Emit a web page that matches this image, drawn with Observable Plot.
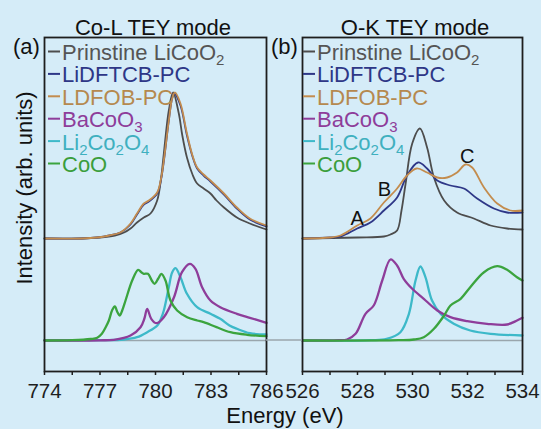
<!DOCTYPE html>
<html><head><meta charset="utf-8">
<script src="https://cdn.jsdelivr.net/npm/d3@7"></script>
<script src="https://cdn.jsdelivr.net/npm/@observablehq/plot@0.6"></script>
<style>
body{margin:0;background:#d5ecf8;}
#wrap{position:relative;width:541px;height:429px;background:#d5ecf8;font-family:"Liberation Sans",Arial,sans-serif;overflow:hidden}
#wrap svg{position:absolute;top:0}
</style></head><body><div id="wrap"></div>
<script>
// ---------- data ----------
const seriesNames = ["Prinstine LiCoO_2", "LiDFTCB-PC", "LDFOB-PC", "BaCoO_3", "Li_2Co_2O_4", "CoO"];
const seriesColors = ["#4d4d4d", "#2e3787", "#c38c4e", "#8e3d9a", "#3db9c9", "#3ba43e"];
const legendTextColors = ["#555555", "#2e3787", "#b5894f", "#8e3d9a", "#3fb0bf", "#3a9e3c"];

const panelTitles = ["Co-L TEY mode", "O-K TEY mode"];
const panelTags = ["(a)", "(b)"];
const yLabel = "Intensity (arb. units)";
const xLabel = "Energy (eV)";

const coLDomain = [774, 786];
const coLTicks = [774, 775.5, 777, 778.5, 780, 781.5, 783, 784.5, 786];
const coLTickLabels = [774, 777, 780, 783, 786];
const okDomain = [526, 534];
const okTicks = [526, 527, 528, 529, 530, 531, 532, 533, 534];
const okTickLabels = [526, 528, 530, 532, 534];
const yDomain = [-0.31, 3.03];

// Co-L edge
const coL_Prinstine = [[774,1.02],[776,1.02],[777,1.03],[777.8,1.05],[778.3,1.08],[778.65,1.12],[779.0,1.18],[779.37,1.23],[779.73,1.27],[780.09,1.40],[780.3,1.62],[780.45,1.87],[780.72,2.30],[780.95,2.48],[781.26,2.27],[781.45,2.05],[781.7,1.83],[782.0,1.66],[782.25,1.57],[782.6,1.52],[782.97,1.47],[783.3,1.40],[783.7,1.33],[784.4,1.23],[785.1,1.17],[786,1.11]];
const coL_LiDFTCB = [[774,1.02],[776,1.02],[776.85,1.03],[777.5,1.05],[778.1,1.08],[778.65,1.16],[779.0,1.26],[779.37,1.36],[779.64,1.39],[780.09,1.47],[780.3,1.61],[780.45,1.79],[780.72,2.20],[780.9,2.42],[781.02,2.47],[781.35,2.35],[781.7,2.05],[782.0,1.84],[782.25,1.72],[782.6,1.65],[782.97,1.59],[783.7,1.46],[784.4,1.32],[785.1,1.21],[786,1.14]];
const coL_LDFOB = [[774,1.02],[776,1.02],[776.85,1.03],[777.5,1.05],[778.1,1.08],[778.65,1.17],[779.0,1.27],[779.37,1.37],[779.64,1.40],[780.09,1.48],[780.3,1.62],[780.45,1.80],[780.72,2.20],[780.9,2.42],[781.05,2.48],[781.35,2.37],[781.7,2.07],[782.0,1.85],[782.25,1.73],[782.6,1.66],[782.97,1.60],[783.7,1.47],[784.4,1.33],[785.1,1.22],[786,1.15]];
const coL_BaCoO3 = [[774,0],[777,0.002],[777.75,0.007],[778.65,0.05],[779.19,0.133],[779.4,0.22],[779.55,0.317],[779.77,0.217],[780.05,0.173],[780.45,0.233],[781.0,0.433],[781.43,0.683],[781.86,0.767],[782.16,0.717],[782.52,0.533],[782.97,0.40],[783.5,0.333],[784.4,0.267],[785.1,0.227],[786,0.177]];
const coL_Li2Co2O4 = [[774,0],[777,0.003],[778.3,0.01],[779.0,0.033],[779.55,0.083],[780.1,0.15],[780.3,0.22],[780.45,0.30],[780.72,0.533],[780.9,0.68],[781.08,0.723],[781.35,0.633],[781.7,0.467],[782.25,0.333],[782.97,0.267],[783.5,0.217],[784.0,0.15],[784.4,0.117],[785.1,0.073],[786,0.06]];
const coL_CoO = [[774,0],[775.5,0.003],[776.5,0.015],[776.85,0.027],[777.1,0.067],[777.3,0.13],[777.48,0.20],[777.65,0.30],[777.8,0.34],[777.95,0.28],[778.07,0.25],[778.2,0.30],[778.38,0.40],[778.74,0.60],[779.06,0.707],[779.25,0.68],[779.37,0.667],[779.59,0.667],[779.8,0.60],[779.95,0.567],[780.15,0.62],[780.32,0.667],[780.54,0.60],[780.81,0.40],[781.17,0.30],[781.71,0.233],[782.25,0.20],[782.6,0.183],[783.3,0.133],[784.05,0.083],[784.95,0.057],[786,0.043]];

// O-K edge
const ok_Prinstine = [[526,1.02],[528,1.03],[528.96,1.04],[529.2,1.06],[529.44,1.10],[529.6,1.30],[529.75,1.57],[529.99,1.97],[530.27,2.12],[530.53,1.93],[530.78,1.63],[531.15,1.40],[531.62,1.28],[532.23,1.22],[532.84,1.15],[533.44,1.12],[534,1.11]];
const ok_LiDFTCB = [[526,1.02],[527,1.03],[527.38,1.04],[527.99,1.12],[528.47,1.18],[528.96,1.30],[529.44,1.43],[529.8,1.65],[530.2,1.78],[530.53,1.72],[530.9,1.60],[531.38,1.55],[531.87,1.52],[532.35,1.42],[532.96,1.32],[533.44,1.28],[534,1.28]];
const ok_LDFOB = [[526,1.02],[527,1.03],[527.38,1.05],[527.99,1.15],[528.47,1.22],[528.96,1.38],[529.44,1.52],[529.8,1.65],[530.15,1.72],[530.53,1.68],[530.9,1.63],[531.26,1.63],[531.62,1.68],[531.93,1.76],[532.17,1.73],[532.6,1.53],[533.08,1.37],[533.56,1.30],[534,1.30]];
const ok_BaCoO3 = [[526,0],[527.3,0.003],[527.62,0.01],[527.93,0.067],[528.29,0.267],[528.59,0.35],[528.9,0.60],[529.2,0.81],[529.44,0.75],[529.68,0.617],[529.99,0.517],[530.41,0.417],[530.9,0.30],[531.38,0.233],[531.99,0.193],[532.71,0.167],[533.44,0.16],[533.8,0.20],[534,0.227]];
const ok_Li2Co2O4 = [[526,0],[528.5,0.003],[529.06,0.017],[529.56,0.083],[529.87,0.267],[530.11,0.60],[530.29,0.74],[530.47,0.633],[530.71,0.40],[531.02,0.267],[531.5,0.167],[532.1,0.10],[532.84,0.067],[534,0.05]];
const ok_CoO = [[526,0],[529.5,0.003],[530.05,0.01],[530.41,0.033],[530.78,0.117],[531.15,0.25],[531.38,0.35],[531.75,0.417],[532.1,0.533],[532.6,0.683],[533.08,0.743],[533.44,0.707],[533.8,0.633],[534,0.60]];

const okAnnotations = [{label:"A", x:527.99, y:1.22},{label:"B", x:528.98, y:1.51},{label:"C", x:531.99, y:1.84}];

// ---------- drawing ----------
const FONT = '"Liberation Sans", Arial, sans-serif';
const wrap = document.getElementById("wrap");

function linesFor(seriesList) {
  // bottom references first, then top spectra (gray, navy, orange)
  const order = [4, 3, 5, 0, 1, 2];
  return order.map(i => Plot.line(seriesList[i], {
    x: d => d[0], y: d => d[1], stroke: seriesColors[i],
    strokeWidth: i >= 3 ? 2.3 : 1.8, curve: "catmull-rom"
  }));
}

function panel(opts) {
  return Plot.plot({
    width: opts.width, height: 429,
    marginLeft: opts.ml, marginRight: opts.mr, marginTop: 37, marginBottom: 58,
    style: {background: "transparent", fontFamily: FONT, color: "#1e1e1e", overflow: "visible"},
    x: {domain: opts.domain},
    y: {domain: yDomain, axis: null},
    marks: [
      Plot.ruleY([0], {stroke: "#9aa6ad", strokeWidth: 1.5}),
      ...linesFor(opts.series),
      ...(opts.annotations ? [Plot.text(opts.annotations, {x: "x", y: "y", text: "label", fontSize: 20, fill: "#111"})] : []),
      Plot.frame({stroke: "#1e1e1e", strokeWidth: 1.8}),
      Plot.axisX(opts.ticks, {
        tickFormat: d => opts.labels.includes(d) ? String(d) : "",
        tickSize: 4, tickPadding: 8, fontSize: 20.5, label: null, strokeWidth: 1.5
      })
    ]
  });
}

const left = panel({width: 290, ml: 44, mr: 24, domain: coLDomain, ticks: coLTicks, labels: coLTickLabels,
  series: [coL_Prinstine, coL_LiDFTCB, coL_LDFOB, coL_BaCoO3, coL_Li2Co2O4, coL_CoO]});
const right = panel({width: 261, ml: 22, mr: 19, domain: okDomain, ticks: okTicks, labels: okTickLabels,
  series: [ok_Prinstine, ok_LiDFTCB, ok_LDFOB, ok_BaCoO3, ok_Li2Co2O4, ok_CoO], annotations: okAnnotations});
left.style.left = "0px";
right.style.left = "280px";
wrap.appendChild(left);
wrap.appendChild(right);

// overlay texts
const ov = d3.select(wrap).append("svg").attr("width", 541).attr("height", 429)
  .style("left", "0px").style("font-family", FONT).style("pointer-events", "none");

// gray baseline bridging the two panels
const lx = left.scale("x"), ly = left.scale("y"), rx = right.scale("x");
ov.append("line").attr("x1", lx.apply(coLDomain[1])).attr("x2", 280 + rx.apply(okDomain[0]))
  .attr("y1", ly.apply(0)).attr("y2", ly.apply(0)).attr("stroke", "#9aa6ad").attr("stroke-width", 1.5);

ov.append("text").attr("x", 153).attr("y", 35).attr("text-anchor", "middle").attr("font-size", 22).attr("fill", "#111").text(panelTitles[0]);
ov.append("text").attr("x", 415).attr("y", 35).attr("text-anchor", "middle").attr("font-size", 22).attr("fill", "#111").text(panelTitles[1]);
ov.append("text").attr("x", 13).attr("y", 54).attr("font-size", 22).attr("fill", "#111").text(panelTags[0]);
ov.append("text").attr("x", 271).attr("y", 54).attr("font-size", 22).attr("fill", "#111").text(panelTags[1]);
ov.append("text").attr("transform", "translate(32,188) rotate(-90)").attr("text-anchor", "middle").attr("font-size", 22).attr("fill", "#111").text(yLabel);
ov.append("text").attr("x", 285).attr("y", 423).attr("text-anchor", "middle").attr("font-size", 22).attr("fill", "#111").text(xLabel);

function legend(x0) {
  seriesNames.forEach((name, i) => {
    const base = 60 + i * 22.4;
    ov.append("line").attr("x1", x0).attr("x2", x0 + 12).attr("y1", base - 8.5).attr("y2", base - 8.5)
      .attr("stroke", seriesColors[i]).attr("stroke-width", 2);
    const t = ov.append("text").attr("x", x0 + 14).attr("y", base).attr("font-size", 22).attr("fill", legendTextColors[i]);
    const parts = name.split(/(_\d)/).filter(s => s.length);
    let lowered = false;
    parts.forEach(p => {
      if (p.startsWith("_")) {
        t.append("tspan").attr("font-size", 15).attr("dy", lowered ? 0 : 5).text(p.slice(1));
        lowered = true;
      } else {
        t.append("tspan").attr("dy", lowered ? -5 : 0).text(p);
        lowered = false;
      }
    });
  });
}
legend(48);
legend(303);
</script></body></html>
